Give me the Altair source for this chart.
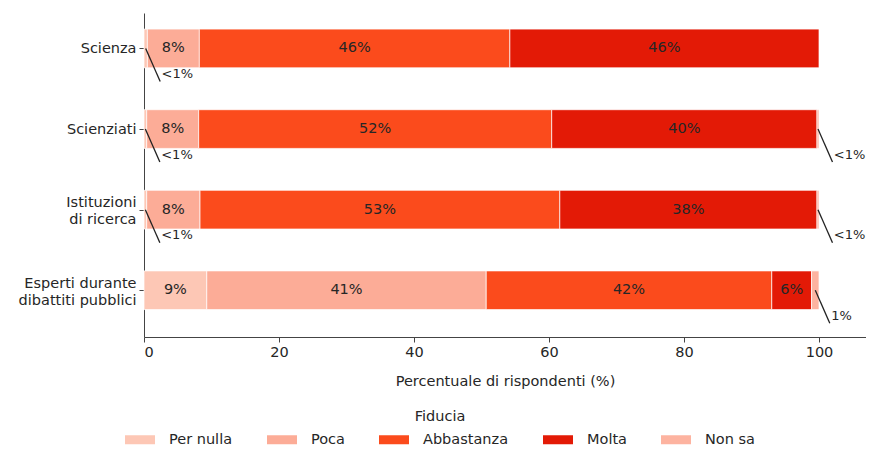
import altair as alt
import pandas as pd

categories = ["Scienza", "Scienziati", "Istituzioni di ricerca", "Esperti durante dibattiti pubblici"]
levels = ["Per nulla", "Poca", "Abbastanza", "Molta", "Non sa"]
colors = ["#fdc7b5", "#fcac97", "#fb4b1c", "#e31a06", "#fdb3a0"]

per_nulla = [0.5, 0.4, 0.4, 9.3]
poca = [7.7, 7.7, 7.9, 41.4]
abbastanza = [46.0, 52.3, 53.3, 42.3]
molta = [45.8, 39.3, 38.1, 5.9]
non_sa = [0.0, 0.3, 0.3, 1.1]

lab_per_nulla = ["<1%", "<1%", "<1%", "9%"]
lab_poca = ["8%", "8%", "8%", "41%"]
lab_abbastanza = ["46%", "52%", "53%", "42%"]
lab_molta = ["46%", "40%", "38%", "6%"]
lab_non_sa = ["", "<1%", "<1%", "1%"]

series = [per_nulla, poca, abbastanza, molta, non_sa]
labels = [lab_per_nulla, lab_poca, lab_abbastanza, lab_molta, lab_non_sa]

rows = []
for i, cat in enumerate(categories):
    start = 0.0
    for lvl, vals, labs in zip(levels, series, labels):
        v = vals[i]
        if v > 0:
            rows.append(dict(cat=cat, idx=i, level=lvl, x0=start, x1=start + v,
                             mid=start + v / 2, val=v, label=labs[i],
                             y0=i - 0.24, y1=i + 0.24))
        start += v
df = pd.DataFrame(rows)

inside = df[df["val"] >= 3].copy()
small = df[(df["val"] < 3)].copy()
small["lx2"] = small["mid"] + 2.15
small["ly2"] = small["idx"] + 0.41
small["tx"] = small["lx2"] + 0.2
small["ty"] = small["idx"] + 0.32

FONT = "DejaVu Sans"
FS = 14.5
TXT = "#262626"
xscale = alt.Scale(domain=[0, 722 / 6.75], nice=False, zero=False)
yscale = alt.Scale(domain=[-0.44, 3.58], reverse=True, nice=False, zero=False)

label_expr = ("datum.value == 0 ? 'Scienza' : datum.value == 1 ? 'Scienziati' : "
              "datum.value == 2 ? ['Istituzioni', 'di ricerca'] : "
              "['Esperti durante', 'dibattiti pubblici']")

bars = alt.Chart(df).mark_bar(stroke="white", strokeWidth=1, strokeOpacity=0.7).encode(
    x=alt.X("x0:Q", scale=xscale,
            axis=alt.Axis(values=[0, 20, 40, 60, 80, 100], title="Percentuale di rispondenti (%)",
                          grid=False, domainColor="#444", tickColor="#444", tickSize=5,
                          labelFont=FONT, labelFontSize=FS, labelColor=TXT, labelPadding=3,
                          titleFont=FONT, titleFontSize=FS, titleFontWeight="normal",
                          titleColor=TXT, titlePadding=16)),
    x2="x1:Q",
    y=alt.Y("y0:Q", scale=yscale,
            axis=alt.Axis(values=[0, 1, 2, 3], labelExpr=label_expr, title=None, grid=False,
                          domainColor="#444", tickColor="#444", tickSize=5,
                          labelFont=FONT, labelFontSize=FS, labelColor=TXT, labelPadding=3,
                          labelLineHeight=17,
                          labelOffset={"condition": {"test": "datum.value >= 2", "value": -7},
                                       "value": 0})),
    y2="y1:Q",
    color=alt.Color("level:N", scale=alt.Scale(domain=levels, range=colors),
                    sort=levels,
                    legend=alt.Legend(title="Fiducia", orient="none", direction="horizontal",
                                      columns=5, legendX=-19, legendY=397,
                                      titleAnchor="middle", titleOrient="top",
                                      titleFont=FONT, titleFontSize=FS, titleFontWeight="normal",
                                      titleColor=TXT, titlePadding=0,
                                      labelFont=FONT, labelFontSize=FS, labelColor=TXT,
                                      symbolType="M-1,-0.3L1,-0.3L1,0.3L-1,0.3Z",
                                      symbolSize=900, symbolStrokeWidth=0,
                                      labelOffset=14, columnPadding=34)),
)

texts = alt.Chart(inside).mark_text(font=FONT, fontSize=FS, color=TXT).encode(
    x=alt.X("mid:Q", scale=xscale),
    y=alt.Y("idx:Q", scale=yscale),
    text="label:N",
)

leaders = alt.Chart(small).mark_rule(color="#222", strokeWidth=1.3).encode(
    x=alt.X("mid:Q", scale=xscale),
    x2="lx2:Q",
    y=alt.Y("idx:Q", scale=yscale),
    y2="ly2:Q",
)

small_text = alt.Chart(small).mark_text(font=FONT, fontSize=13, color=TXT,
                                        align="left", baseline="middle").encode(
    x=alt.X("tx:Q", scale=xscale),
    y=alt.Y("ty:Q", scale=yscale),
    text="label:N",
)

chart = alt.layer(bars, texts, leaders, small_text).properties(
    width=722, height=324,
    autosize=alt.AutoSizeParams(type="none"),
    padding={"left": 136, "top": 5, "right": 0, "bottom": 109},
).configure_view(stroke=None).configure_axisY(domainWidth=1, tickWidth=1).configure_axisX(
    domainWidth=1, tickWidth=1)

chart.save("out.html", embed_options={"renderer": "svg", "actions": False})
